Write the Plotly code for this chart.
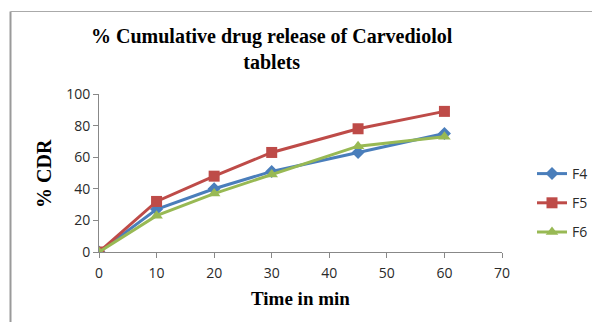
import plotly.graph_objects as go

time_min = [0, 10, 20, 30, 45, 60]
f4 = [0, 27, 40, 51, 63, 75]
f5 = [0, 32, 48, 63, 78, 89]
f6 = [0, 23, 37, 49, 67, 73]

x_ticks = [0, 10, 20, 30, 40, 50, 60, 70]
y_ticks = [0, 20, 40, 60, 80, 100]

series = [
    ("F4", f4, "#4A7EBB", "diamond", 10),
    ("F5", f5, "#BE4B48", "square", 11),
    ("F6", f6, "#98B954", "triangle-up", 11),
]

fig = go.Figure()
for name, vals, color, symbol, size in series:
    fig.add_trace(go.Scatter(
        x=time_min, y=vals, name=name, mode="lines+markers",
        line=dict(color=color, width=3),
        marker=dict(symbol=symbol, size=size, color=color),
        legendgroup=name,
    ))

W, H = 592, 322
L, R, T, B = 99, 90, 94, 70
pw, ph = W - L - R, H - T - B

def px_x(p):
    return (p - L) / pw

def px_y(p):
    return (H - B - p) / ph

axis_font = dict(family="Open Sans, Liberation Sans, sans-serif", size=14, color="#2A2A2A")
legend_font = dict(family="Open Sans, Liberation Sans, sans-serif", size=14, color="#2A2A2A")
serif = "Liberation Serif, Times New Roman, serif"

fig.update_layout(
    width=W, height=H,
    margin=dict(l=L, r=R, t=T, b=B, autoexpand=False),
    paper_bgcolor="white", plot_bgcolor="white",
    showlegend=True,
    legend=dict(xref="container", yref="container", x=532 / W, y=1 - 158 / H,
                xanchor="left", yanchor="top",
                font=legend_font, tracegroupgap=8, itemwidth=30,
                bgcolor="rgba(0,0,0,0)"),
    xaxis=dict(range=[0, 70], tickvals=x_ticks, showline=True, linecolor="#888888",
               linewidth=1, ticks="outside", ticklen=5, tickcolor="#888888",
               showgrid=False, zeroline=False, tickfont=axis_font,
               ticklabelstandoff=3),
    yaxis=dict(range=[0, 100], tickvals=y_ticks, showline=True, linecolor="#888888",
               linewidth=1, ticks="outside", ticklen=5, tickcolor="#888888",
               showgrid=False, zeroline=False, tickfont=axis_font),
)

fig.add_annotation(text="<b>% Cumulative drug release of Carvediolol<br>tablets</b>",
                   xref="paper", yref="paper", x=px_x(272), y=px_y(49),
                   xanchor="center", yanchor="middle", showarrow=False,
                   font=dict(family=serif, size=20, color="#000"))
fig.add_annotation(text="<b>Time in min</b>", xref="paper", yref="paper",
                   x=px_x(300), y=px_y(298), xanchor="center", yanchor="middle",
                   showarrow=False, font=dict(family=serif, size=19, color="#000"))
fig.add_annotation(text="<b>% CDR</b>", xref="paper", yref="paper",
                   x=px_x(44), y=px_y(173), xanchor="center", yanchor="middle",
                   textangle=-90, showarrow=False, font=dict(family=serif, size=20, color="#000"))

# outer chart frame (left and top edges)
fig.add_shape(type="line", xref="paper", yref="paper",
              x0=px_x(10.5), x1=px_x(10.5), y0=px_y(11.5), y1=px_y(330),
              line=dict(color="#9A9A9A", width=2))
fig.add_shape(type="line", xref="paper", yref="paper",
              x0=px_x(10.5), x1=px_x(600), y0=px_y(11.5), y1=px_y(11.5),
              line=dict(color="#AAAAAA", width=1))

fig.write_html("out.html")
